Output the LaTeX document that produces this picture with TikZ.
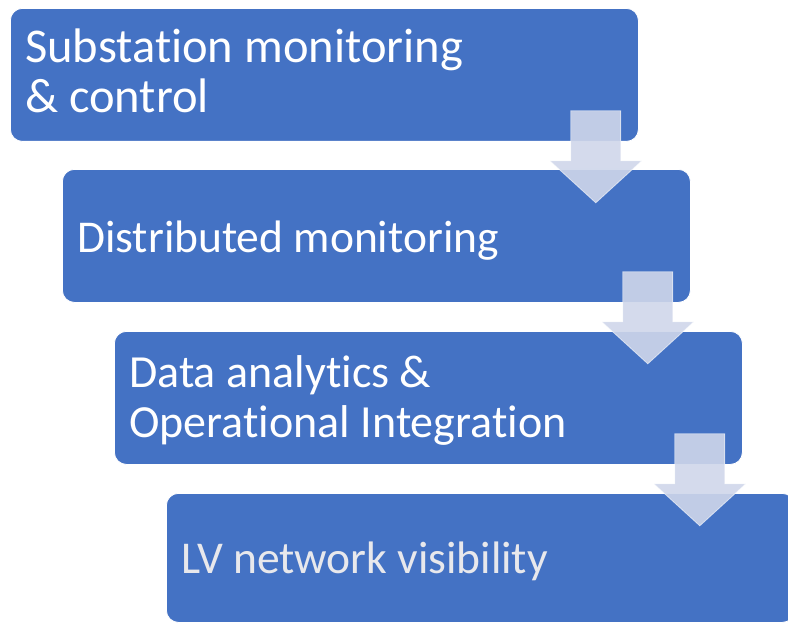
\documentclass[tikz,border=0pt]{standalone}
\usepackage{fontspec}
\setmainfont{Carlito}[Ligatures=NoCommon]
\usetikzlibrary{positioning,calc}
\definecolor{cbox}{RGB}{68,114,196}
\definecolor{carrow}{RGB}{207,214,234}
\definecolor{clast}{RGB}{232,232,236}

% chevron step arrow hanging off the lower right corner of a stage
\newcommand\stepdown[1]{%
  \draw[flow] ([shift={(-68,-31)}]#1.south east) -- ++(50,0) -- ++(0,50) -- ++(21,0)
    -- ++(-46,42) -- ++(-46,-42) -- ++(21,0) -- cycle;}

\begin{document}
\begin{tikzpicture}[x=1pt,y=-1pt,
  stage/.style={draw=white,line width=0.8pt,fill=cbox,rounded corners=12pt,
    minimum width=628pt,minimum height=133pt,anchor=north west,inner sep=0pt},
  lbl/.style={anchor=base west,inner sep=0pt,align=left,text=white,
    font=\fontsize{#1}{50}\selectfont},
  lbl/.default=46,
  flow/.style={fill=carrow,fill opacity=0.9,draw=white,draw opacity=0.6,line width=0.8pt}]

\clip (0,0) rectangle (788,623);

% ===== stages =====
\node[stage] (s1) at (10,8) {};
\node[stage] (s2) at (62,169) {};
\node[stage] (s3) at (114,331) {};
\node[stage,minimum height=129pt] (s4) at (166,493) {};

% ===== labels (base = last line) =====
\node[lbl=48.5] (t1) at ($(s1.north west)+(15,105)$) {Substation monitoring\\\& control};
\node[lbl=45.5] (t2) at ($(s2.north west)+(15,83)$) {Distributed monitoring};
\node[lbl] (t3) at ($(s3.north west)+(15,106)$) {Data analytics \&\\Operational Integration};
\node[lbl=45.5,text=clast] (t4) at ($(s4.north west)+(15,80)$) {LV network visibility};

% ===== arrows between stages =====
\stepdown{s1}
\stepdown{s2}
\stepdown{s3}
\end{tikzpicture}
\end{document}
